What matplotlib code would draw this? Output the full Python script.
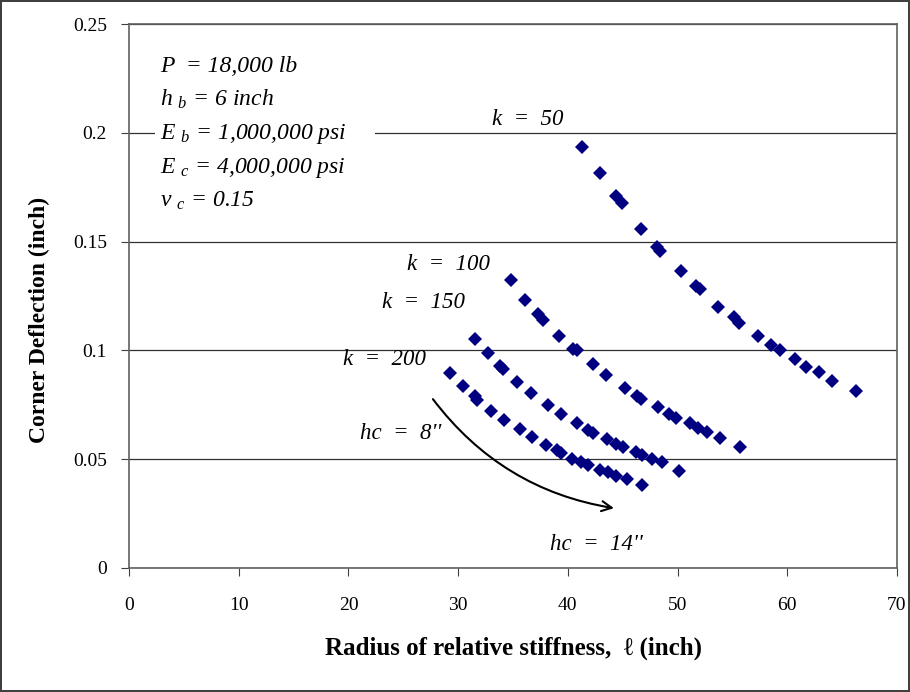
import matplotlib.pyplot as plt
from matplotlib.patches import Rectangle

# k = 50 pci
k50_x = [41.3, 42.9, 44.4, 44.9, 46.7, 48.1, 48.4, 50.3, 51.7, 52.0, 53.7, 55.1, 55.6,
         57.3, 58.5, 59.3, 60.7, 61.7, 62.9, 64.1, 66.3]
k50_y = [0.1935, 0.1817, 0.1710, 0.1676, 0.1560, 0.1473, 0.1458, 0.1363, 0.1295, 0.1282,
         0.1198, 0.1152, 0.1127, 0.1066, 0.1025, 0.1002, 0.0962, 0.0925, 0.0902, 0.0861, 0.0813]

# k = 100 pci
k100_x = [34.8, 36.1, 37.3, 37.7, 39.2, 40.5, 40.8, 42.3, 43.5, 45.2, 46.3, 46.7, 48.2,
          49.2, 49.9, 51.1, 51.9, 52.7, 53.9, 55.7]
k100_y = [0.1324, 0.1232, 0.1165, 0.1140, 0.1068, 0.1008, 0.1000, 0.0936, 0.0885, 0.0829,
          0.0790, 0.0775, 0.0738, 0.0706, 0.0688, 0.0668, 0.0642, 0.0624, 0.0599, 0.0557]

# k = 150 pci
k150_x = [31.5, 32.7, 33.8, 34.1, 35.4, 36.6, 38.2, 39.4, 40.8, 41.8, 42.3, 43.6, 44.4,
          45.0, 46.2, 46.8, 47.7, 48.6, 50.1]
k150_y = [0.1052, 0.0987, 0.0928, 0.0913, 0.0856, 0.0806, 0.0748, 0.0706, 0.0665, 0.0634,
          0.0622, 0.0591, 0.0568, 0.0558, 0.0535, 0.0520, 0.0500, 0.0486, 0.0447]

# k = 200 pci
k200_x = [29.3, 30.4, 31.5, 31.7, 33.0, 34.2, 35.6, 36.7, 38.0, 39.0, 39.4, 40.4, 41.2,
          41.8, 42.9, 43.7, 44.4, 45.4, 46.8]
k200_y = [0.0895, 0.0836, 0.0790, 0.0772, 0.0722, 0.0680, 0.0639, 0.0600, 0.0565, 0.0542,
          0.0530, 0.0500, 0.0486, 0.0473, 0.0449, 0.0443, 0.0424, 0.0408, 0.0381]

xticks = [0, 10, 20, 30, 40, 50, 60, 70]
yticks = [0, 0.05, 0.1, 0.15, 0.2, 0.25]
ytick_labels = ['0', '0.05', '0.1', '0.15', '0.2', '0.25']

params = ['P  = 18,000 lb', 'h $_b$ = 6 inch', 'E $_b$ = 1,000,000 psi',
          'E $_c$ = 4,000,000 psi', '$\\nu$ $_c$ = 0.15']

plt.rcParams['font.family'] = ['Liberation Serif', 'DejaVu Serif']
plt.rcParams['mathtext.fontset'] = 'custom'
plt.rcParams['mathtext.rm'] = 'Liberation Serif:italic'
plt.rcParams['mathtext.it'] = 'Liberation Serif:italic'

fig = plt.figure(figsize=(9.1, 6.92), dpi=100)
fig.patch.set_edgecolor('#404040')
fig.patch.set_linewidth(1.5)
ax = fig.add_axes([0.1418, 0.1792, 0.8439, 0.7861])

navy = '#000080'
for xs, ys in [(k50_x, k50_y), (k100_x, k100_y), (k150_x, k150_y), (k200_x, k200_y)]:
    ax.plot(xs, ys, 'D', color=navy, markersize=7, markeredgewidth=0, zorder=3)

ax.set_xlim(0, 70)
ax.set_ylim(0, 0.25)
ax.set_xticks(xticks)
ax.set_yticks(yticks)
ax.set_yticklabels(ytick_labels)
ax.tick_params(direction='out', length=6, labelsize=14, color='#404040', pad=10)
ax.tick_params(axis='x', pad=15)
ax.yaxis.grid(True, color='#303030', linewidth=0.9)
ax.set_axisbelow(True)
for s in ax.spines.values():
    s.set_color('#606060')
    s.set_linewidth(1.2)

ax.set_xlabel('Radius of relative stiffness,  \u2113 (inch)', fontsize=18, fontweight='bold', labelpad=16)
ax.set_ylabel('Corner Deflection (inch)', fontsize=17, fontweight='bold')
ax.yaxis.set_label_coords(-0.103, 0.456)

# white text box hiding the grid line behind the parameters
ax.add_patch(Rectangle((2.4, 0.158), 20.0, 0.088, facecolor='white', edgecolor='none', zorder=1.5))
ax.text(2.8, 0.2352, '\n'.join(params), fontsize=17, style='italic', va='top', ha='left',
        linespacing=1.6, zorder=2)

lab = dict(fontsize=16.5, style='italic', ha='center', va='center')
ax.text(36.3, 0.2063, 'k  =  50', **lab)
ax.text(29.1, 0.1397, 'k  =  100', **lab)
ax.text(26.8, 0.1222, 'k  =  150', **lab)
ax.text(23.3, 0.0956, 'k  =  200', **lab)
ax.text(24.8, 0.0616, "hc  =  8''", **lab)
ax.text(42.6, 0.0106, "hc  =  14''", **lab)

ax.annotate('', xy=(44.2, 0.0275), xytext=(27.7, 0.0776),
            arrowprops=dict(arrowstyle='->', color='black', lw=1.5,
                            connectionstyle='arc3,rad=0.2', mutation_scale=18,
                            shrinkA=0, shrinkB=0))

fig.savefig('out.png', dpi=100)
